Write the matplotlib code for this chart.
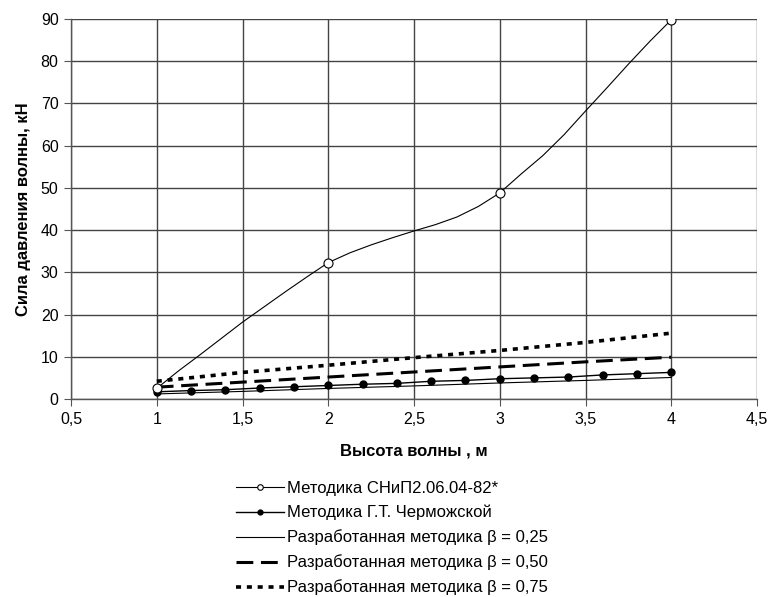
"""Wave pressure force vs wave height."""

import matplotlib
matplotlib.use('Agg')
import matplotlib.pyplot as plt  # noqa: E402

plt.rcParams['font.family'] = ['Liberation Sans', 'DejaVu Sans']

snip_x = [1, 2, 3, 4]
snip_y = [2.5, 32.3, 48.8, 89.8]
snip_curve_x = [1.0, 1.125, 1.25, 1.375, 1.5, 1.625, 1.75, 1.875, 2.0,
                2.125, 2.25, 2.375, 2.5, 2.625, 2.75, 2.875, 3.0,
                3.125, 3.25, 3.375, 3.5, 3.625, 3.75, 3.875, 4.0]
snip_curve_y = [2.5, 6.6, 10.4, 14.3, 18.2, 21.8, 25.4, 28.9, 32.3,
                34.6, 36.5, 38.2, 39.8, 41.3, 43.1, 45.6, 48.8,
                53.3, 57.6, 62.6, 68.2, 73.7, 79.3, 84.7, 89.8]

# Chermozhskaya method
cherm_x = [1.0, 1.2, 1.4, 1.6, 1.8, 2.0, 2.2, 2.4, 2.6, 2.8, 3.0,
           3.2, 3.4, 3.6, 3.8, 4.0]
cherm_y = [1.7, 2.0, 2.2, 2.6, 2.9, 3.2, 3.5, 3.7, 4.2, 4.4, 4.8,
           5.0, 5.2, 5.7, 6.0, 6.3]

# Developed method for three beta values
dev_x = [1.0, 1.5, 2.0, 2.5, 3.0, 3.5, 4.0]
beta025_y = [1.2, 1.8, 2.5, 3.1, 3.8, 4.4, 5.1]
beta050_y = [2.8, 4.0, 5.2, 6.4, 7.6, 8.8, 9.9]
beta075_y = [4.2, 6.3, 8.0, 9.8, 11.5, 13.4, 15.6]

x_ticks = [0.5, 1, 1.5, 2, 2.5, 3, 3.5, 4, 4.5]
x_tick_labels = ['0,5', '1', '1,5', '2', '2,5', '3', '3,5', '4', '4,5']
y_ticks = [0, 10, 20, 30, 40, 50, 60, 70, 80, 90]

fig = plt.figure(figsize=(7.69, 5.97), dpi=100)
ax = fig.add_axes([71 / 769, 1 - 399 / 597, (757 - 71) / 769, (399 - 19) / 597])

ax.plot(snip_curve_x, snip_curve_y, color='black', lw=0.8, zorder=3)
ax.plot(snip_x, snip_y, ls='none', marker='o', ms=6.5, mfc='white',
        mec='black', mew=0.8, zorder=4)
snip_handle, = ax.plot([], [], color='black', lw=0.8, marker='o', ms=4,
                       mfc='white', mec='black', mew=0.8)

ax.plot(cherm_x, cherm_y, color='black', lw=1.0, marker='o', ms=5,
        zorder=3)
cherm_handle, = ax.plot([], [], color='black', lw=1.0, marker='o', ms=3.5)
b25, = ax.plot(dev_x, beta025_y, color='black', lw=0.8, zorder=3)
b50, = ax.plot(dev_x, beta050_y, color='black', lw=2.2,
               dashes=(5.5, 2.5), zorder=3)
b75, = ax.plot(dev_x, beta075_y, color='black', lw=2.6,
               dashes=(1.4, 1.6), zorder=3)

ax.set_xlim(0.5, 4.5)
ax.set_ylim(0, 90)
ax.set_xticks(x_ticks)
ax.set_xticklabels(x_tick_labels)
ax.set_yticks(y_ticks)
ax.grid(True, color='#444444', lw=1.0)
ax.set_axisbelow(True)
for side in ['top', 'right']:
    ax.spines[side].set_visible(False)
for side in ['left', 'bottom']:
    ax.spines[side].set_color('#555555')
    ax.spines[side].set_linewidth(1.0)
ax.tick_params(labelsize=11.5, length=5, color='#555555', pad=4)

ax.set_xlabel('Высота волны , м', fontsize=12, fontweight='bold',
              labelpad=12)
ax.set_ylabel('Сила давления волны, кН', fontsize=12, fontweight='bold',
              labelpad=7)

fig.legend([snip_handle, cherm_handle, b25, b50, b75],
           ['Методика СНиП2.06.04-82*',
            'Методика Г.Т. Черможской',
            'Разработанная методика β = 0,25',
            'Разработанная методика β = 0,50',
            'Разработанная методика β = 0,75'],
           loc='upper left', bbox_to_anchor=(229 / 769, 1 - 474 / 597),
           frameon=False, fontsize=12, handlelength=2.9,
           handletextpad=0.2, labelspacing=0.55, borderaxespad=0)

fig.savefig('out.png', dpi=100)
